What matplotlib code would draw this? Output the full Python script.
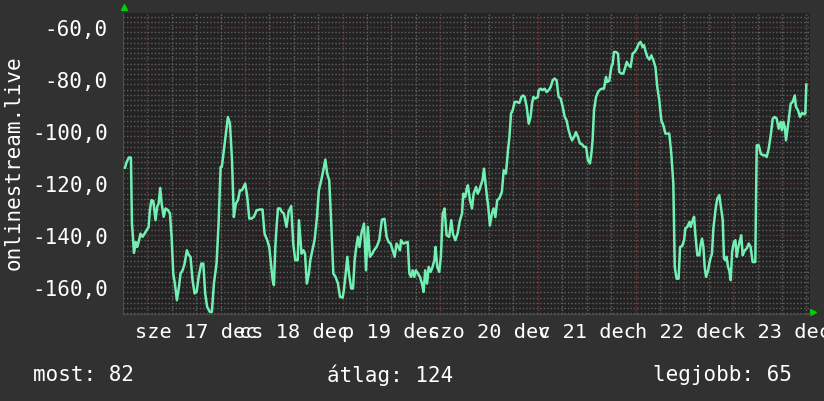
import matplotlib
matplotlib.use('Agg')
import matplotlib.pyplot as plt
from matplotlib.ticker import FuncFormatter

# hours since 17 dec 00:00 and the value at that time
hours = [
    -5.5, -5.1, -4.55, -4.05, -3.8, -3.3, -2.85, -2.5, -2.15, -1.7, -1.2, -0.7, -0.2,
    0.3, 0.6, 1.0, 1.45, 2.0, 2.4, 2.75, 3.15, 3.5, 4.0, 4.45, 5.1, 5.55, 5.95, 6.35,
    6.75, 7.25, 7.75, 8.15, 8.65, 9.15, 9.7, 10.2, 10.6, 11.1, 11.6, 12.1, 12.6, 13.25,
    13.75, 14.2, 14.7, 15.35, 15.85, 16.35, 17.0, 17.5, 18.0, 18.3, 18.8, 19.3, 19.8,
    20.3, 20.8, 21.25, 21.75, 22.25, 22.75, 23.25, 24.05, 24.55, 25.05, 25.55, 26.2,
    26.85, 27.65,
    28.3, 28.8, 29.45, 29.95, 30.8, 31.1, 31.45, 31.75, 32.1, 32.6, 33.05, 33.55, 34.2,
    34.7, 35.35, 35.85, 36.35, 36.95, 37.25, 37.65, 37.9, 38.4, 38.75, 39.2, 39.7, 40.05,
    40.55, 41.1, 41.7, 42.15, 42.75, 43.25, 43.75, 44.2, 44.7, 45.2, 45.7, 46.25, 46.85,
    47.35, 48.0, 48.3, 48.75, 49.15, 49.55, 50.1, 50.55, 50.95, 51.35, 51.75, 52.15,
    52.6, 53.25, 53.75, 54.2, 54.7, 55.3, 55.7, 56.35, 57.0, 57.65, 58.3, 58.8, 59.3,
    59.8, 60.8, 61.25, 62.1,
    62.35, 62.9, 64.0, 64.4, 64.8, 65.2, 65.6, 66.0, 66.5, 67.0, 67.5, 67.9, 68.3, 68.75,
    69.15, 69.65, 70.1, 70.55, 70.85, 71.25, 71.75, 72.15, 72.6, 73.05, 73.55, 74.2,
    74.7, 75.1, 75.7, 76.25, 76.85, 77.35, 77.65, 78.15, 78.5, 78.8, 79.3, 79.8, 80.2,
    80.8, 81.2, 81.6, 82.1, 82.4, 82.75, 83.05, 83.4, 83.8, 84.2, 84.7, 85.1, 85.55,
    86.0, 86.5, 87.15, 87.6, 88.15, 88.65, 89.0, 89.4, 89.8, 90.3, 90.8, 91.45, 91.95,
    92.4, 92.75, 93.25, 93.75, 94.2, 94.55, 94.9, 95.35, 96.0,
    96.2, 96.7, 97.15, 97.65, 98.15, 98.65, 99.15, 99.65, 100.1, 100.6, 101.1, 101.6,
    102.1, 102.6, 103.05, 103.55, 104.05, 104.4, 104.9, 105.35, 105.85, 106.35, 106.85,
    107.35, 107.85, 108.3, 108.8, 109.15, 109.45, 109.8, 110.3, 110.8, 111.25, 111.75,
    112.25, 112.75, 113.05, 113.55, 114.05, 114.4, 114.7, 115.2, 115.7, 116.0, 116.5,
    117.0, 117.5, 117.85, 118.3, 118.8, 119.3, 119.8, 120.3, 120.8, 121.25, 121.75,
    122.1, 122.4, 122.9, 123.4, 123.9, 124.4, 124.9, 125.35, 125.85, 126.35, 126.85,
    127.35, 127.85, 128.3, 128.8,
    129.3, 129.65, 130.1, 130.6, 130.95, 131.45, 131.95, 132.25, 132.75, 133.25, 133.55,
    133.9, 134.4, 134.7, 135.2, 135.7, 136.0, 136.35, 136.7, 137.0, 137.35, 137.85,
    138.3, 138.8, 139.15, 139.65, 140.1, 140.6, 141.1, 141.45, 141.75, 142.1, 142.4,
    142.75, 143.05, 143.4, 143.75, 144.2, 144.55, 144.9, 145.2, 145.7, 146.0, 146.35,
    146.85, 147.35, 147.85, 148.3, 148.8, 149.45, 149.8, 150.3, 150.8, 151.25, 151.75,
    152.25, 152.75, 153.25, 153.75, 154.2, 154.7, 155.2, 155.7, 156.0, 156.35, 156.7,
    157.0, 157.5, 157.85, 158.15, 158.65, 159.15, 159.45, 159.95, 160.45, 160.95, 161.45,
    161.75, 162.0,
]
values = [
    -114.0, -111.8, -110.1, -110.1, -135.3, -146.8, -142.6, -144.5, -142.6, -139.4,
    -140.6, -139.4, -138.1,
    -136.8, -130.4, -126.5, -126.8, -134.2, -129.1, -127.8, -121.8, -127.8, -132.9,
    -129.7, -130.4, -131.7, -140.6, -154.7, -158.6, -165.0, -159.9, -154.7, -153.5,
    -150.9, -145.8, -147.7, -148.3, -157.3, -162.4, -161.8, -156.0, -150.9, -150.9,
    -162.4, -167.6, -169.5, -169.5, -158.6, -150.9, -135.5, -113.7, -113.7, -107.3,
    -100.9, -94.5, -97.1, -111.2, -133.0, -127.8, -126.5, -122.7, -122.7, -120.1,
    -125.3, -133.6, -133.6, -132.9, -130.4, -130.1,
    -130.1, -139.4, -141.9, -144.5, -157.3, -159.2, -144.5, -136.8, -129.7, -129.7,
    -131.0, -131.7, -136.8, -131.0, -128.8, -143.2, -149.6, -149.6, -134.2, -141.9,
    -147.1, -145.8, -147.1, -158.6, -154.7, -149.6, -145.8, -141.9, -132.9, -122.7,
    -118.8, -115.0, -110.9, -116.3, -118.8, -135.5, -154.7, -156.0, -158.6, -163.7,
    -164.0, -161.2, -154.7, -148.3, -154.7, -160.5, -160.5, -149.6, -144.5, -140.6,
    -144.5, -139.4, -135.5, -153.5, -136.8, -148.3, -147.1, -145.8, -144.5, -141.9,
    -134.0, -133.7, -140.6, -142.6, -143.2, -148.3, -143.2, -145.8,
    -141.9, -143.2, -142.6, -154.7, -156.0, -153.5, -156.0, -153.5, -154.7, -156.0,
    -158.6, -161.8, -153.5, -158.6, -152.2, -154.1, -152.2, -149.6, -144.5, -152.2,
    -154.1, -148.3, -131.7, -129.7, -140.0, -140.6, -134.2, -139.4, -141.9, -139.4,
    -134.2, -131.7, -124.0, -125.3, -122.1, -120.8, -126.5, -129.7, -124.0, -121.4,
    -124.0, -122.7, -120.1, -118.8, -114.4, -118.8, -124.0, -129.1, -136.2, -131.7,
    -129.7, -133.0, -126.5, -125.9, -123.3, -115.0, -116.3, -107.3, -102.2, -93.2,
    -91.9, -88.7, -88.7, -89.1, -86.8, -86.2, -86.8, -90.6, -97.1, -94.5, -89.4,
    -86.8, -87.4, -86.8,
    -84.2, -83.6, -84.2, -83.6, -84.9, -84.2, -82.9, -80.4, -79.7, -80.4, -86.8,
    -87.4, -90.6, -94.5, -95.8, -99.6, -102.2, -103.5, -102.2, -100.3, -102.2,
    -104.7, -105.0, -106.0, -106.0, -111.2, -112.4, -108.6, -103.5, -91.9, -86.8,
    -84.9, -84.0, -83.6, -83.6, -79.1, -81.0, -80.6, -75.3, -74.0, -69.5, -69.5,
    -70.1, -77.2, -77.8, -77.8, -75.3, -73.3, -74.6, -75.3, -70.1, -69.5, -68.2,
    -66.3, -65.6, -67.6, -66.9, -68.8, -71.4, -72.4, -70.8, -72.7, -75.3, -82.9,
    -88.1, -95.8, -97.7, -100.9, -100.9, -100.9, -108.6,
    -120.1, -152.2, -156.7, -156.7, -144.5, -144.2, -141.9, -137.4, -136.8, -134.9,
    -136.8, -134.9, -132.9, -139.4, -147.7, -147.7, -143.8, -141.3, -144.5, -152.2,
    -156.0, -153.5, -149.6, -147.1, -137.4, -130.4, -125.9, -124.6, -130.4, -134.2,
    -149.0, -149.6, -148.3, -152.2, -153.5, -157.3, -146.4, -142.6, -141.9, -148.3,
    -145.1, -141.9, -140.0, -147.7, -145.8, -145.1, -143.2, -144.5, -150.3, -150.3,
    -105.4, -105.4, -108.6, -109.2, -109.2, -109.9, -106.7, -101.5, -95.1, -94.5,
    -95.1, -99.0, -96.4, -99.6, -96.4, -98.3, -103.5, -97.7, -93.2, -89.4, -88.7,
    -86.2, -90.6, -91.9, -94.5, -92.9, -93.5, -93.2, -82.0,
]

day_hours = [12, 36, 60, 84, 108, 132, 156]
day_labels = ['sze 17 dec', 'cs 18 dec', 'p 19 dec', 'szo 20 dec',
              'v 21 dec', 'h 22 dec', 'k 23 dec']
y_ticks = [-60, -80, -100, -120, -140, -160]
y_title = 'onlinestream.live'
legend_items = ['most: 82', 'átlag: 124', 'legjobb: 65']

mono = 'DejaVu Sans Mono'
outer_bg = '#313131'
plot_bg = '#232323'

fig = plt.figure(figsize=(8.24, 4.02), dpi=100, facecolor=outer_bg)
ax = fig.add_axes([123 / 824, 1 - 315 / 402, 687 / 824, 301 / 402])
ax.set_facecolor(plot_bg)
ax.set_xlim(-6.0, 162.9)
ax.set_ylim(-170.3, -54.5)

# grid, rrdtool style
for h in range(-6, 163, 6):
    if h % 24 == 0:
        ax.axvline(h, color='#8c3838', lw=1.0, ls=(0, (1, 1.5)), zorder=1)
    elif h > -6:
        ax.axvline(h, color='#666666', lw=1.0, ls=(0, (1, 1.5)), zorder=1)
for v in range(-170, -54, 2):
    if v % 20 == 0:
        ax.axhline(v, color='#8c3838', lw=1.0, ls=(0, (1, 1.5)), zorder=1)
    else:
        ax.axhline(v, color='#606060', lw=1.0, ls=(0, (1, 1.5)), zorder=1)

ax.plot(hours, values, color='#72f0b4', lw=1.8, zorder=3)

ax.set_yticks(y_ticks)
ax.yaxis.set_major_formatter(FuncFormatter(lambda v, p: f'{v:.1f}'.replace('.', ',')))
ax.set_xticks(day_hours)
ax.set_xticklabels(day_labels)
ax.tick_params(axis='y', length=0, pad=11, colors='white', labelsize=15)
ax.tick_params(axis='x', length=0, pad=6, colors='white', labelsize=14.6)
for lab in ax.get_xticklabels() + ax.get_yticklabels():
    lab.set_family(mono)

for s in ax.spines.values():
    s.set_visible(False)
ax.spines['bottom'].set_visible(True)
ax.spines['bottom'].set_color('#4a4a4a')
ax.spines['left'].set_visible(True)
ax.spines['left'].set_color('#4a4a4a')

# little green arrows at the axis ends
ax.plot([0.002], [1.02], marker='^', color='#00d000', ms=5, transform=ax.transAxes, clip_on=False)
ax.plot([1.004], [0.005], marker='>', color='#00d000', ms=5, transform=ax.transAxes, clip_on=False)

fig.text(0.017, 1 - 163 / 402, y_title, rotation=90, color='white', family=mono,
         fontsize=15, ha='center', va='center')

fig.text(33 / 824, 1 - 375 / 402, legend_items[0], color='white', family=mono,
         fontsize=15, ha='left', va='center')
fig.text(327 / 824, 1 - 375 / 402, legend_items[1], color='white', family=mono,
         fontsize=15, ha='left', va='center')
fig.text(792 / 824, 1 - 375 / 402, legend_items[2], color='white', family=mono,
         fontsize=15, ha='right', va='center')

fig.savefig('out.png', dpi=100, facecolor=outer_bg)
